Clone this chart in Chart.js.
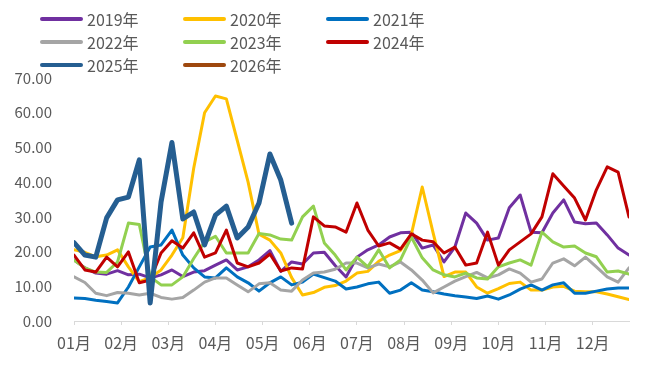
<!DOCTYPE html>
<html>
<head>
<meta charset="utf-8">
<script src="https://cdn.jsdelivr.net/npm/chart.js@4.4.1/dist/chart.umd.min.js"></script>
<style>
  body { margin: 0; background: #fff; }
  #wrap { position: relative; width: 654px; height: 373px; }
  #legend {
    position: absolute; left: 40px; top: 7px;
    display: grid; grid-template-columns: 143px 143px 143px; grid-auto-rows: 23px;
    font-family: "Noto Sans CJK SC", sans-serif; font-size: 16px; color: #595959;
  }
  .item { display: flex; align-items: center; white-space: nowrap; }
  .swatch { display: inline-block; width: 43px; height: 4px; border-radius: 2px; margin-right: 4px; }
</style>
</head>
<body>
<div id="wrap">
  <canvas id="myChart"></canvas>
  <div id="legend"></div>
</div>
<script>
const monthLabels = ["01月", "02月", "03月", "04月", "05月", "06月", "07月", "08月", "09月", "10月", "11月", "12月"];
const seriesNames = ["2019年", "2020年", "2021年", "2022年", "2023年", "2024年", "2025年", "2026年"];
const seriesColors = ["#7030A0", "#FFC000", "#0070C0", "#A5A5A5", "#92D050", "#C00000", "#255E91", "#9E480E"];

// weekly values, 52 weeks
const y2019 = [17.6, 15.3, 13.8, 13.5, 14.5, 13.3, 13.5, 12.4, 13.3, 14.7, 12.8, 14.1, 14.5, 16.1, 17.6, 14.7, 15.6, 17.6, 20.3, 14.3,
  17.0, 16.4, 19.6, 19.8, 16.0, 12.7, 18.4, 20.5, 21.9, 24.2, 25.4, 25.6, 21.0, 21.9, 17.0, 21.3, 31.1, 28.2, 23.3, 23.9,
  32.6, 36.3, 25.6, 25.4, 31.1, 34.9, 28.5, 28.0, 28.2, 24.8, 21.0, 19.0];
const y2020 = [20.5, 19.8, 18.5, 19.0, 20.5, 15.6, 11.3, 12.5, 14.7, 19.0, 24.0, 44.0, 60.0, 64.8, 64.0, 52.0, 40.0, 25.0, 23.3, 19.6,
  12.5, 7.5, 8.2, 9.7, 10.2, 11.5, 13.8, 14.3, 17.2, 19.0, 20.3, 25.0, 38.6, 25.4, 12.8, 14.1, 14.1, 9.8, 8.0, 9.3,
  10.8, 11.2, 8.9, 8.9, 9.8, 10.0, 8.6, 8.4, 8.4, 7.8, 7.0, 6.2];
const y2021 = [6.6, 6.5, 6.0, 5.6, 5.2, 9.8, 15.6, 21.3, 21.9, 26.2, 19.0, 15.3, 12.7, 12.4, 15.3, 12.7, 11.0, 8.6, 11.0, 12.7,
  10.4, 11.2, 13.5, 12.5, 11.5, 9.2, 9.8, 10.7, 11.2, 8.0, 8.9, 11.0, 8.9, 8.4, 7.8, 7.3, 6.9, 6.5, 7.2, 6.3,
  7.5, 9.2, 10.4, 8.9, 10.4, 11.0, 8.0, 8.0, 8.6, 9.2, 9.5, 9.5];
const y2022 = [12.7, 11.1, 8.0, 7.3, 8.2, 8.0, 7.5, 8.0, 6.8, 6.3, 6.8, 8.9, 11.2, 12.4, 12.4, 10.4, 8.4, 10.7, 11.0, 8.9,
  8.6, 11.8, 13.8, 14.1, 14.9, 16.7, 16.7, 15.3, 16.4, 15.6, 17.0, 14.7, 11.8, 8.1, 9.8, 11.5, 12.8, 14.0, 12.4, 13.3,
  15.0, 13.8, 11.2, 12.1, 16.7, 17.9, 15.9, 18.4, 15.6, 12.7, 11.2, 15.3];
const y2023 = [17.5, 15.3, 14.1, 14.0, 17.0, 28.2, 27.8, 12.7, 10.4, 10.4, 12.7, 18.0, 22.8, 24.4, 19.6, 19.6, 19.6, 25.2, 24.8, 23.6,
  23.3, 30.0, 33.1, 22.5, 19.0, 14.7, 18.4, 15.6, 20.5, 15.3, 17.6, 24.2, 18.2, 14.7, 13.3, 12.7, 13.8, 12.4, 12.1, 15.6,
  16.7, 17.6, 16.1, 25.6, 22.8, 21.3, 21.6, 19.6, 18.5, 14.1, 14.4, 13.5];
const y2024 = [19.0, 14.7, 14.1, 18.4, 15.6, 19.9, 11.0, 11.8, 19.6, 23.1, 21.0, 25.4, 18.4, 19.6, 26.2, 16.7, 15.6, 16.7, 19.3, 14.4,
  15.3, 15.0, 30.0, 27.4, 27.1, 25.6, 34.0, 26.2, 21.6, 22.5, 20.7, 25.1, 23.3, 22.8, 19.6, 21.3, 16.1, 16.7, 25.6, 16.1,
  20.5, 22.8, 25.1, 30.0, 42.4, 38.9, 35.4, 29.1, 37.8, 44.4, 42.9, 30.0];
const y2025 = [22.6, 19.0, 18.4, 29.7, 34.9, 35.7, 46.4, 5.2, 34.3, 51.4, 29.4, 31.4, 21.9, 30.5, 33.1, 23.9, 27.1, 34.0, 48.1, 40.6, 28.2];
const y2026 = [];

const allSeries = [y2019, y2020, y2021, y2022, y2023, y2024, y2025, y2026];

const datasets = allSeries.map((vals, i) => ({
  label: seriesNames[i],
  data: vals.map((v, k) => ({ x: k, y: v })),
  borderColor: seriesColors[i],
  backgroundColor: seriesColors[i],
  borderWidth: i === 6 ? 5 : 3,
  pointRadius: 0,
  tension: 0,
  fill: false,
  borderJoinStyle: 'round',
  borderCapStyle: 'round',
  order: allSeries.length - i
}));

const legendEl = document.getElementById('legend');
seriesNames.forEach((name, i) => {
  const it = document.createElement('div');
  it.className = 'item';
  it.innerHTML = '<span class="swatch" style="background:' + seriesColors[i] + '"></span>' + name;
  legendEl.appendChild(it);
});

const ctx = document.getElementById('myChart').getContext('2d');
const myChart = new Chart(ctx, {
  type: 'line',
  data: { datasets: datasets },
  options: {
    responsive: true,
    maintainAspectRatio: false,
    animation: false,
    layout: { padding: { top: 78, right: 25, left: 0, bottom: 0 } },
    plugins: { legend: { display: false }, tooltip: { enabled: false } },
    scales: {
      x: {
        type: 'linear',
        min: 0,
        max: 51,
        afterBuildTicks: (scale) => {
          scale.ticks = monthLabels.map((_, k) => ({ value: k * 52 / 12 }));
        },
        afterFit: (scale) => { scale.height = 52; },
        ticks: {
          autoSkip: false,
          maxRotation: 0,
          padding: 8,
          color: '#595959',
          font: { family: '"Noto Sans CJK SC", sans-serif', size: 16 },
          callback: (v, idx) => monthLabels[idx]
        },
        grid: { drawOnChartArea: false, drawTicks: true, tickLength: 4, color: '#d9d9d9' },
        border: { color: '#d9d9d9', width: 1 }
      },
      y: {
        min: 0,
        max: 70,
        afterFit: (scale) => { scale.width = 74; },
        ticks: {
          stepSize: 10,
          padding: 22,
          color: '#595959',
          font: { family: '"Noto Sans CJK SC", sans-serif', size: 15 },
          callback: (v) => v.toFixed(2)
        },
        grid: { display: false, drawTicks: false },
        border: { display: false }
      }
    }
  }
});
</script>
</body>
</html>
